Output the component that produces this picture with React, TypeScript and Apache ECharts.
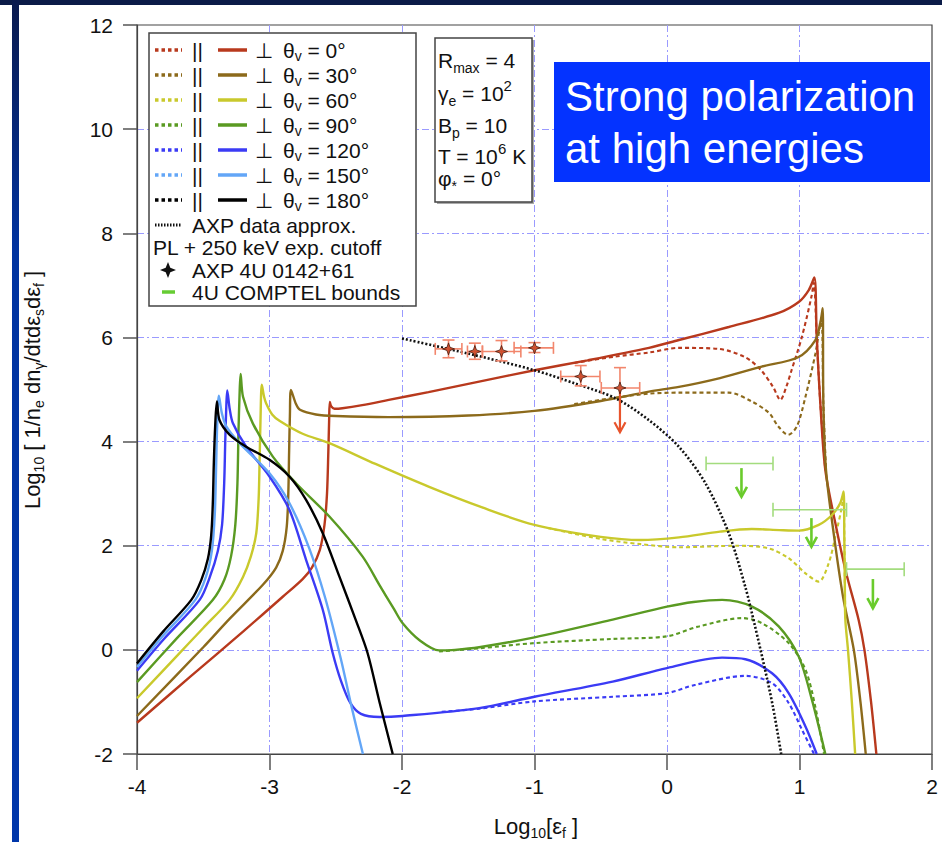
import React, { useEffect, useRef } from 'react';
import * as echarts from 'echarts';

const FONT = '"Liberation Sans", Arial, Helvetica, sans-serif';
const INK = '#111111';

// viewing angles and their colours
const angleLabels = ['0°', '30°', '60°', '90°', '120°', '150°', '180°'];
const angleColors = ['#b8391d', '#8c6a1b', '#c9c92c', '#5a9a22', '#3b3bf5', '#63a6f7', '#000000'];

// perpendicular-mode spectra: [log10 εf, log10 rate]
const perp0 = [
  [-4.0, -1.40], [-3.6, -0.52], [-3.2, 0.35], [-2.9, 1.02], [-2.75, 1.36], [-2.68, 1.58], [-2.62, 1.92],
  [-2.585, 2.40], [-2.566, 3.0], [-2.556, 3.8], [-2.55, 4.4], [-2.545, 4.76], [-2.535, 4.68], [-2.51, 4.63],
  [-2.45, 4.64], [-2.3, 4.70], [-2.1, 4.80], [-1.8, 4.95], [-1.4, 5.16], [-1.0, 5.37], [-0.6, 5.56],
  [-0.136, 5.80], [0.09, 5.95], [0.466, 6.20], [0.843, 6.47], [0.994, 6.68], [1.07, 6.91], [1.112, 7.15],
  [1.13, 6.0], [1.157, 4.74], [1.195, 3.45], [1.27, 2.44], [1.35, 1.50], [1.446, 0.58], [1.49, 0.0],
  [1.54, -1.0], [1.58, -2.0],
];
const perp30 = [
  [-4.0, -1.27], [-3.5, 0.05], [-3.3, 0.60], [-3.05, 1.25], [-2.95, 1.58], [-2.90, 1.90], [-2.87, 2.36],
  [-2.858, 3.0], [-2.852, 3.8], [-2.846, 4.5], [-2.838, 4.99], [-2.80, 4.72], [-2.77, 4.61], [-2.65, 4.52],
  [-2.5, 4.49], [-2.1, 4.47], [-1.5, 4.50], [-1.0, 4.59], [-0.5, 4.78], [-0.136, 4.96], [0.09, 5.05],
  [0.4, 5.22], [0.715, 5.44], [0.99, 5.62], [1.12, 5.95], [1.157, 6.28], [1.175, 6.56], [1.18, 4.74],
  [1.20, 3.45], [1.26, 2.2], [1.33, 1.0], [1.41, 0.0], [1.46, -1.0], [1.50, -2.0],
];
const perp60 = [
  [-4.0, -0.93], [-3.7, -0.12], [-3.5, 0.42], [-3.301, 0.96], [-3.20, 1.40], [-3.14, 1.80], [-3.10, 2.24],
  [-3.082, 2.9], [-3.075, 3.6], [-3.068, 4.4], [-3.058, 5.09], [-3.04, 4.85], [-3.025, 4.73], [-2.98, 4.52],
  [-2.925, 4.40], [-2.75, 4.15], [-2.548, 3.97], [-2.2, 3.57], [-1.795, 3.13], [-1.4, 2.74], [-1.0, 2.40],
  [-0.5, 2.17], [-0.2, 2.11], [0.09, 2.16], [0.4, 2.27], [0.64, 2.32], [0.85, 2.30], [0.994, 2.29],
  [1.145, 2.40], [1.245, 2.59], [1.308, 2.82], [1.333, 3.04], [1.338, 2.2], [1.342, 1.3], [1.346, 0.58],
  [1.366, 0.0], [1.395, -1.0], [1.42, -2.0],
];
const perp90 = [
  [-4.0, -0.62], [-3.7, 0.22], [-3.427, 0.96], [-3.34, 1.35], [-3.29, 1.8], [-3.258, 2.4], [-3.242, 3.2],
  [-3.234, 4.2], [-3.226, 4.9], [-3.218, 5.30], [-3.20, 4.86], [-3.126, 4.35], [-2.975, 3.71], [-2.80, 3.20],
  [-2.548, 2.56], [-2.297, 1.79], [-2.171, 1.25], [-2.06, 0.78], [-1.995, 0.51], [-1.87, 0.19], [-1.72, -0.01],
  [-1.60, 0.0], [-1.418, 0.05], [-1.0, 0.24], [-0.41, 0.58], [0.0, 0.83], [0.2, 0.92], [0.416, 0.96],
  [0.642, 0.83], [0.843, 0.45], [0.994, -0.13], [1.094, -0.96], [1.195, -2.0],
];
const perp120 = [
  [-4.0, -0.40], [-3.8, 0.20], [-3.527, 0.96], [-3.45, 1.40], [-3.39, 1.9], [-3.358, 2.4], [-3.342, 3.2],
  [-3.334, 4.0], [-3.327, 4.6], [-3.319, 4.98], [-3.30, 4.62], [-3.276, 4.35], [-3.176, 3.90], [-3.0, 3.33],
  [-2.85, 2.69], [-2.724, 1.73], [-2.598, 0.77], [-2.523, -0.06], [-2.46, -0.60], [-2.39, -1.02],
  [-2.31, -1.23], [-2.17, -1.29], [-1.995, -1.27], [-1.418, -1.12], [-1.0, -0.90], [-0.41, -0.61],
  [0.0, -0.35], [0.416, -0.15], [0.592, -0.18], [0.793, -0.45], [0.918, -0.83], [1.045, -1.47], [1.13, -2.0],
];
const perp150 = [
  [-4.0, -0.33], [-3.8, 0.28], [-3.56, 0.96], [-3.48, 1.40], [-3.435, 1.9], [-3.413, 2.6], [-3.403, 3.5],
  [-3.395, 4.3], [-3.382, 4.88], [-3.36, 4.55], [-3.326, 4.29], [-3.226, 3.97], [-3.0, 3.39], [-2.85, 2.82],
  [-2.70, 1.95], [-2.58, 1.0], [-2.46, -0.19], [-2.38, -1.1], [-2.295, -2.0],
];
const perp180 = [
  [-4.0, -0.26], [-3.8, 0.36], [-3.59, 0.96], [-3.515, 1.34], [-3.465, 1.75], [-3.44, 2.2], [-3.428, 2.8],
  [-3.42, 3.6], [-3.41, 4.3], [-3.397, 4.77], [-3.377, 4.41], [-3.30, 4.13], [-3.176, 3.90], [-3.0, 3.65],
  [-2.85, 3.33], [-2.724, 2.88], [-2.598, 2.24], [-2.473, 1.41], [-2.35, 0.58], [-2.26, -0.06],
  [-2.17, -1.0], [-2.07, -2.0],
];

// parallel-mode spectra where they separate from the perpendicular ones
const par0 = [
  [-0.7, 5.51], [-0.4, 5.63], [-0.136, 5.71], [0.09, 5.80], [0.39, 5.78], [0.59, 5.62], [0.71, 5.37],
  [0.80, 5.05], [0.856, 4.80], [0.90, 5.05], [0.94, 5.37], [1.017, 6.0], [1.09, 6.78], [1.108, 7.05],
  [1.13, 6.0], [1.157, 4.74], [1.195, 3.45],
];
const par30 = [
  [-0.7, 4.72], [-0.4, 4.84], [-0.136, 4.92], [0.09, 4.94], [0.466, 4.94], [0.64, 4.77], [0.77, 4.55],
  [0.84, 4.29], [0.914, 4.13], [0.98, 4.29], [1.045, 4.86], [1.12, 5.69], [1.165, 6.35], [1.18, 4.74], [1.20, 3.45],
];
const par60 = [
  [-0.9, 2.34], [-0.5, 2.13], [-0.2, 2.03], [0.09, 1.97], [0.54, 2.0], [0.767, 1.95], [0.918, 1.76],
  [1.045, 1.47], [1.145, 1.31], [1.22, 1.66], [1.27, 2.17], [1.32, 2.75], [1.333, 3.0], [1.338, 2.2],
  [1.342, 1.3], [1.346, 0.58],
];
const par90 = [
  [-1.72, -0.03], [-1.418, 0.03], [-1.0, 0.13], [-0.41, 0.21], [0.0, 0.26], [0.24, 0.45], [0.567, 0.61],
  [0.718, 0.51], [0.918, 0.13], [1.045, -0.38], [1.12, -1.1], [1.185, -2.0],
];
const par120 = [
  [-1.7, -1.19], [-1.418, -1.13], [-1.0, -0.99], [-0.41, -0.90], [0.0, -0.83], [0.216, -0.67],
  [0.592, -0.50], [0.793, -0.64], [0.918, -1.02], [1.02, -1.54], [1.11, -2.0],
];

// power law with 250 keV exponential cutoff
const axpApprox = [
  [-2.0, 5.98], [-1.5, 5.69], [-1.0, 5.37], [-0.7, 5.12], [-0.387, 4.83], [-0.136, 4.41], [0.09, 3.90],
  [0.29, 3.20], [0.466, 2.24], [0.592, 1.2], [0.66, 0.5], [0.74, -0.38], [0.80, -1.1], [0.862, -2.0],
];

// AXP 4U 0142+61 measurements
const axpX = [-1.649, -1.45, -1.249, -1.0, -0.651, -0.355];
const axpY = [5.78, 5.73, 5.73, 5.80, 5.25, 5.03];
const axpXLo = [-1.749, -1.506, -1.393, -1.154, -0.802, -0.496];
const axpXHi = [-1.548, -1.393, -1.103, -0.857, -0.506, -0.206];
const axpYLo = [5.61, 5.58, 5.55, 5.71, 5.07, 5.03];
const axpYHi = [5.95, 5.89, 5.94, 5.90, 5.46, 5.42];
const axpLimitX = [-0.355];
const axpLimitFrom = [5.0];
const axpLimitTo = [4.18];

// COMPTEL upper bounds
const comptelXLo = [0.295, 0.80, 1.355];
const comptelXHi = [0.80, 1.355, 1.79];
const comptelY = [3.58, 2.69, 1.55];
const comptelArrowX = [0.562, 1.09, 1.554];
const comptelArrowFrom = [3.49, 2.53, 1.36];
const comptelArrowTo = [2.94, 1.98, 0.80];

const xTicks = { min: -4, max: 2, step: 1 };
const yTicks = { min: -2, max: 12, step: 2 };

const STAR = 'path://M0,-10L2.6,-2.6L10,0L2.6,2.6L0,10L-2.6,2.6L-10,0L-2.6,-2.6Z';
const SMOOTH = 0.3;

function richSet(main: number, sub: number) {
  return {
    m: { fontSize: main, lineHeight: 30, fontFamily: FONT, fill: INK, color: INK },
    s: { fontSize: sub, lineHeight: 16, verticalAlign: 'bottom', fontFamily: FONT, fill: INK, color: INK },
    p: { fontSize: sub + 1, lineHeight: 12, verticalAlign: 'top', fontFamily: FONT, fill: INK, color: INK },
  };
}

function txt(x: number, y: number, text: string, extra: any = {}) {
  return {
    type: 'text', x, y, z: 101, silent: true,
    style: {
      text, fill: INK, fontSize: 21, fontFamily: FONT,
      align: 'left', textAlign: 'left', verticalAlign: 'middle', textVerticalAlign: 'middle',
      ...extra,
    },
  };
}

function buildGraphic() {
  const g: any[] = [];
  // page frame
  g.push({ type: 'rect', z: 0, silent: true, shape: { x: 0, y: 0, width: 942, height: 5 }, style: { fill: '#0b1b48' } });
  g.push({
    type: 'rect', z: 0, silent: true, shape: { x: 12, y: 0, width: 7, height: 842 },
    style: {
      fill: new echarts.graphic.LinearGradient(0, 0, 0, 1, [
        { offset: 0, color: '#0a1a4e' }, { offset: 0.3, color: '#0033a0' }, { offset: 1, color: '#0036aa' },
      ]),
    },
  });

  // legend box
  g.push({ type: 'rect', z: 100, silent: true, shape: { x: 149, y: 33, width: 267, height: 273 }, style: { fill: '#fff', stroke: '#444', lineWidth: 1.5 } });
  const thetaRich = {
    m: { fontSize: 21, lineHeight: 26, fontFamily: FONT, fill: INK, color: INK },
    s: { fontSize: 14, lineHeight: 18, verticalAlign: 'bottom', fontFamily: FONT, fill: INK, color: INK },
  };
  angleLabels.forEach((lab, i) => {
    const y = 50 + 25 * i;
    const c = angleColors[i];
    g.push({ type: 'line', z: 101, silent: true, shape: { x1: 155, y1: y, x2: 182, y2: y }, style: { stroke: c, lineWidth: 3.5, lineDash: [3.5, 3] } });
    g.push(txt(192, y, '||'));
    g.push({ type: 'line', z: 101, silent: true, shape: { x1: 218, y1: y, x2: 247, y2: y }, style: { stroke: c, lineWidth: 3.5 } });
    g.push(txt(255, y, '⊥'));
    g.push(txt(283, y, `{m|θ}{s|v}{m| = ${lab}}`, { rich: thetaRich }));
  });
  g.push({ type: 'line', z: 101, silent: true, shape: { x1: 155, y1: 225, x2: 182, y2: 225 }, style: { stroke: '#111', lineWidth: 3, lineDash: [1.5, 1.5] } });
  g.push(txt(192, 225, 'AXP data approx.'));
  g.push(txt(153, 247, 'PL + 250 keV exp. cutoff'));
  const cx = 168, cy = 270, R = 8, r = 2.3;
  g.push({
    type: 'polygon', z: 101, silent: true,
    shape: { points: [[cx, cy - R], [cx + r, cy - r], [cx + R, cy], [cx + r, cy + r], [cx, cy + R], [cx - r, cy + r], [cx - R, cy], [cx - r, cy - r]] },
    style: { fill: '#111' },
  });
  g.push(txt(192, 270, 'AXP 4U 0142+61'));
  g.push({ type: 'line', z: 101, silent: true, shape: { x1: 162, y1: 292, x2: 175, y2: 292 }, style: { stroke: '#66cc33', lineWidth: 3.5 } });
  g.push(txt(192, 292, '4U COMPTEL bounds'));

  // parameter box
  g.push({ type: 'rect', z: 99, silent: true, shape: { x: 437, y: 40, width: 97, height: 164 }, style: { fill: '#aaa' } });
  g.push({ type: 'rect', z: 100, silent: true, shape: { x: 435, y: 38, width: 97, height: 164 }, style: { fill: '#fff', stroke: '#444', lineWidth: 1.5 } });
  const pr = richSet(21, 14);
  g.push(txt(438, 60, '{m|R}{s|max}{m| = 4}', { rich: pr }));
  g.push(txt(438, 93, '{m|γ}{s|e}{m| = 10}{p|2}', { rich: pr }));
  g.push(txt(438, 125, '{m|B}{s|p}{m| = 10}', { rich: pr }));
  g.push(txt(438, 156, '{m|T = 10}{p|6}{m| K}', { rich: pr }));
  g.push(txt(438, 178, '{m|φ}{s|*}{m| = 0°}', { rich: pr }));

  // highlight box
  g.push({ type: 'rect', z: 100, silent: true, shape: { x: 554, y: 62, width: 376, height: 120 }, style: { fill: '#0433ff' } });
  g.push(txt(565, 96, 'Strong polarization', { fill: '#ffffff', fontSize: 42 }));
  g.push(txt(565, 148, 'at high energies', { fill: '#ffffff', fontSize: 42 }));

  // axis titles
  const nameRich = {
    m: { fontSize: 22, lineHeight: 28, fontFamily: FONT, fill: INK, color: INK },
    s: { fontSize: 14, lineHeight: 18, verticalAlign: 'bottom', fontFamily: FONT, fill: INK, color: INK },
  };
  g.push({
    type: 'text', x: 536, y: 826, z: 101, silent: true,
    style: {
      text: '{m|Log}{s|10}{m|[ε}{s|f}{m| ]}', rich: nameRich,
      align: 'center', textAlign: 'center', verticalAlign: 'middle', textVerticalAlign: 'middle',
    },
  });
  g.push({
    type: 'text', x: 32, y: 390, rotation: Math.PI / 2, z: 101, silent: true,
    style: {
      text: '{m|Log}{s|10}{m| [ 1/n}{s|e}{m| dn}{s|γ}{m|/dtdε}{s|s}{m|dε}{s|f}{m| ]}', rich: nameRich,
      align: 'center', textAlign: 'center', verticalAlign: 'middle', textVerticalAlign: 'middle',
    },
  });
  return g;
}

function buildSeries() {
  const perpCurves = [perp0, perp30, perp60, perp90, perp120, perp150, perp180];
  const parCurves: (number[][] | null)[] = [par0, par30, par60, par90, par120, null, null];
  const series: any[] = [];

  parCurves.forEach((d, i) => {
    if (!d) return;
    series.push({
      type: 'line', data: d, showSymbol: false, symbol: 'none', silent: true, clip: true, z: 2,
      smooth: SMOOTH,
      lineStyle: { color: angleColors[i], width: 2.1, type: [4, 3] },
    });
  });
  perpCurves.forEach((d, i) => {
    series.push({
      type: 'line', data: d, showSymbol: false, symbol: 'none', silent: true, clip: true, z: 3,
      smooth: SMOOTH,
      lineStyle: { color: angleColors[i], width: 2.4 },
    });
  });
  series.push({
    type: 'line', data: axpApprox, showSymbol: false, symbol: 'none', silent: true, clip: true, z: 4,
    smooth: SMOOTH,
    lineStyle: { color: '#111', width: 2.6, type: [2, 2] },
  });

  // COMPTEL bars
  series.push({
    type: 'custom', silent: true, z: 5,
    data: comptelY.map((y, i) => [comptelXLo[i], comptelXHi[i], y]),
    encode: { x: [0, 1], y: 2 },
    renderItem: (_p: any, api: any) => {
      const a = api.coord([api.value(0), api.value(2)]);
      const b = api.coord([api.value(1), api.value(2)]);
      const st = { stroke: '#a3dc7e', lineWidth: 1.6 };
      return {
        type: 'group', children: [
          { type: 'line', shape: { x1: a[0], y1: a[1], x2: b[0], y2: b[1] }, style: st },
          { type: 'line', shape: { x1: a[0], y1: a[1] - 7, x2: a[0], y2: a[1] + 7 }, style: st },
          { type: 'line', shape: { x1: b[0], y1: b[1] - 7, x2: b[0], y2: b[1] + 7 }, style: st },
        ],
      };
    },
  });

  const arrow = (color: string, w: number) => (_p: any, api: any) => {
    const a = api.coord([api.value(0), api.value(1)]);
    const b = api.coord([api.value(0), api.value(2)]);
    const st = { stroke: color, lineWidth: w, fill: 'none' };
    return {
      type: 'group', children: [
        { type: 'line', shape: { x1: a[0], y1: a[1], x2: b[0], y2: b[1] }, style: st },
        { type: 'polyline', shape: { points: [[b[0] - 5.5, b[1] - 10], [b[0], b[1]], [b[0] + 5.5, b[1] - 10]] }, style: st },
      ],
    };
  };
  series.push({
    type: 'custom', silent: true, z: 6,
    data: comptelArrowX.map((x, i) => [x, comptelArrowFrom[i], comptelArrowTo[i]]),
    encode: { x: 0, y: [1, 2] },
    renderItem: arrow('#6acb2c', 2.6),
  });

  // AXP error bars
  series.push({
    type: 'custom', silent: true, z: 6,
    data: axpX.map((x, i) => [x, axpY[i], axpXLo[i], axpXHi[i], axpYLo[i], axpYHi[i]]),
    encode: { x: [0, 2, 3], y: [1, 4, 5] },
    renderItem: (_p: any, api: any) => {
      const x = api.value(0), y = api.value(1);
      const c = api.coord([x, y]);
      const xl = api.coord([api.value(2), y])[0];
      const xr = api.coord([api.value(3), y])[0];
      const yl = api.coord([x, api.value(4)])[1];
      const yh = api.coord([x, api.value(5)])[1];
      const st = { stroke: '#f2866c', lineWidth: 1.6 };
      const ch: any[] = [
        { type: 'line', shape: { x1: xl, y1: c[1], x2: xr, y2: c[1] }, style: st },
        { type: 'line', shape: { x1: xl, y1: c[1] - 6, x2: xl, y2: c[1] + 6 }, style: st },
        { type: 'line', shape: { x1: xr, y1: c[1] - 6, x2: xr, y2: c[1] + 6 }, style: st },
        { type: 'line', shape: { x1: c[0], y1: yh, x2: c[0], y2: yl }, style: st },
        { type: 'line', shape: { x1: c[0] - 6, y1: yh, x2: c[0] + 6, y2: yh }, style: st },
      ];
      if (Math.abs(yl - c[1]) > 0.5) {
        ch.push({ type: 'line', shape: { x1: c[0] - 6, y1: yl, x2: c[0] + 6, y2: yl }, style: st });
      }
      return { type: 'group', children: ch };
    },
  });
  series.push({
    type: 'custom', silent: true, z: 6,
    data: axpLimitX.map((x, i) => [x, axpLimitFrom[i], axpLimitTo[i]]),
    encode: { x: 0, y: [1, 2] },
    renderItem: arrow('#e8542c', 2.2),
  });
  series.push({
    type: 'scatter', silent: true, z: 7,
    data: axpX.map((x, i) => [x, axpY[i]]),
    symbol: STAR, symbolSize: 12,
    itemStyle: { color: '#c8401e', borderColor: '#4a1a0c', borderWidth: 1 },
  });
  return series;
}

function buildOption() {
  const split = { show: true, showMinLine: false, showMaxLine: false, lineStyle: { color: '#9a9aff', width: 1, type: [7, 3, 2, 3] } };
  return {
    animation: false,
    backgroundColor: '#ffffff',
    grid: {
      left: 137, top: 25, width: 795, height: 729, show: true,
      borderColor: '#444', borderWidth: 1.2, backgroundColor: 'transparent',
      containLabel: false, outerBoundsMode: 'none',
    },
    xAxis: {
      type: 'value', min: xTicks.min, max: xTicks.max, interval: xTicks.step,
      axisLine: { show: true, onZero: false, lineStyle: { color: '#444', width: 1.2 } },
      axisTick: { show: true, length: 16, lineStyle: { color: '#555', width: 1.5 } },
      axisLabel: { fontSize: 21, fontFamily: FONT, color: INK, margin: 22 },
      splitLine: split,
    },
    yAxis: {
      type: 'value', min: yTicks.min, max: yTicks.max, interval: yTicks.step,
      axisLine: { show: true, onZero: false, lineStyle: { color: '#444', width: 1.2 } },
      axisTick: { show: true, length: 14, lineStyle: { color: '#555', width: 1.5 } },
      axisLabel: { fontSize: 21, fontFamily: FONT, color: INK, margin: 24 },
      splitLine: split,
    },
    graphic: { elements: buildGraphic() },
    series: buildSeries(),
  };
}

export default function App() {
  const ref = useRef<HTMLDivElement>(null);
  useEffect(() => {
    if (!ref.current) return;
    const chart = echarts.init(ref.current, undefined, { renderer: 'svg' });
    chart.setOption(buildOption() as any);
    return () => chart.dispose();
  }, []);
  return (
    <div
      ref={ref}
      style={{ position: 'fixed', left: 0, top: 0, width: 942, height: 842, background: '#ffffff' }}
    />
  );
}
